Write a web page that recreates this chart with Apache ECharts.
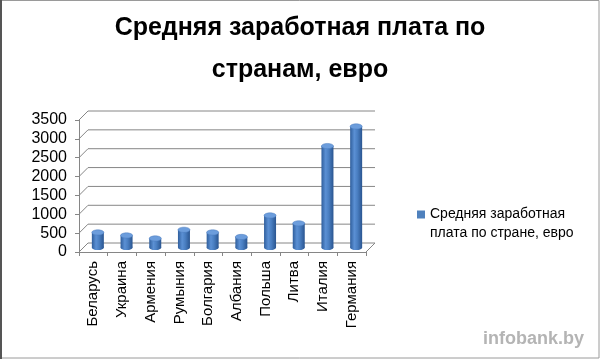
<!DOCTYPE html>
<html>
<head>
<meta charset="utf-8">
<script src="https://cdn.jsdelivr.net/npm/echarts@6/dist/echarts.min.js"></script>
<style>html,body{margin:0;padding:0;background:#fff}#c{width:600px;height:359px}</style>
</head>
<body>
<div id="c"></div>
<script>
const titleText = 'Средняя заработная плата по\nстранам, евро';
const seriesName = 'Средняя заработная плата по стране, евро';
const categories = ['Беларусь','Украина','Армения','Румыния','Болгария','Албания','Польша','Литва','Италия','Германия'];
const values = [400, 320, 240, 470, 400, 280, 850, 640, 2690, 3210];
const yTicks = [0, 500, 1000, 1500, 2000, 2500, 3000, 3500];
const watermark = 'infobank.by';

const D = 9;          // depth offset of back wall
const FONT = '"Liberation Sans", Arial, sans-serif';
const lineColor = '#868686';

const chart = echarts.init(document.getElementById('c'), null, {renderer: 'canvas'});

const option = {
  backgroundColor: '#ffffff',
  animation: false,
  title: {
    text: titleText,
    left: 'center',
    top: 7,
    padding: 0,
    textStyle: {fontFamily: FONT, fontSize: 25, fontWeight: 'bold', color: '#000', lineHeight: 42}
  },
  legend: {
    data: [seriesName],
    left: 417,
    top: 205,
    padding: 0,
    itemWidth: 8,
    itemHeight: 27,
    itemGap: 4,
    icon: 'path://M0 0H8V8H0Z M0 27H0.01V27.01H0Z',
    formatter: () => 'Средняя заработная\nплата по стране, евро',
    textStyle: {fontFamily: FONT, fontSize: 14, color: '#000', lineHeight: 19, padding: [0, 0, 0, 0]}
  },
  grid: {left: 79, top: 120, width: 287, height: 132, containLabel: false},
  xAxis: {
    type: 'category',
    data: categories,
    boundaryGap: true,
    axisLine: {show: true, lineStyle: {color: lineColor, width: 1}},
    axisTick: {show: true, length: 4, inside: false, lineStyle: {color: lineColor}},
    axisLabel: {rotate: 90, fontFamily: FONT, fontSize: 15, color: '#000', margin: 9, interval: 0}
  },
  yAxis: {
    type: 'value',
    min: 0, max: 3500, interval: 500,
    axisLine: {show: true, lineStyle: {color: lineColor, width: 1}},
    axisTick: {show: true, length: 4, lineStyle: {color: lineColor}},
    splitLine: {show: false},
    axisLabel: {fontFamily: FONT, fontSize: 16, color: '#000', margin: 12, formatter: v => String(v)}
  },
  series: [
    {
      name: 'walls',
      type: 'custom',
      silent: true,
      z: 1,
      data: yTicks.map(v => [0, v]),
      renderItem: function (params, api) {
        const cs = params.coordSys;
        const v = api.value(1);
        const y = api.coord([0, v])[1];
        const children = [{
          type: 'polyline',
          shape: {points: [[cs.x, y], [cs.x + D, y - D], [cs.x + cs.width + D, y - D]]},
          style: {stroke: lineColor, lineWidth: 1, fill: null}
        }];
        if (v === 0) {
          children.push({
            type: 'line',
            shape: {x1: cs.x + cs.width, y1: y, x2: cs.x + cs.width + D, y2: y - D},
            style: {stroke: lineColor, lineWidth: 1}
          });
        }
        return {type: 'group', children: children};
      }
    },
    {
      name: seriesName,
      type: 'custom',
      z: 3,
      itemStyle: {color: '#4F81BD'},
      data: values.map((v, i) => [i, v]),
      renderItem: function (params, api) {
        const idx = api.value(0);
        const top = api.coord([idx, api.value(1)]);
        const base = api.coord([idx, 0]);
        const cx = top[0] + D / 2;
        const yt = top[1] - D / 2;
        const yb = base[1] - D / 2;
        const w = 12, rx = 6, ry = 2.6;
        const bodyFill = new echarts.graphic.LinearGradient(0, 0, 1, 0, [
          {offset: 0, color: '#2f5e9c'},
          {offset: 0.35, color: '#5b90d4'},
          {offset: 0.6, color: '#4a7fc2'},
          {offset: 1, color: '#2a5590'}
        ]);
        return {
          type: 'group',
          children: [
            {type: 'ellipse', shape: {cx: cx, cy: yb, rx: rx, ry: ry}, style: {fill: bodyFill}},
            {type: 'rect', shape: {x: cx - w / 2, y: yt, width: w, height: yb - yt}, style: {fill: bodyFill}},
            {type: 'ellipse', shape: {cx: cx, cy: yt, rx: rx, ry: ry}, style: {fill: '#6c9ddc', stroke: '#4a7bbd', lineWidth: 0.5}}
          ]
        };
      }
    }
  ],
  graphic: [
    {type: 'rect', shape: {x: 0.5, y: 0.5, width: 598.5, height: 357.5}, style: {fill: null, stroke: '#9a9a9a', lineWidth: 1}, z: 100},
    {type: 'line', shape: {x1: 1, y1: 0, x2: 1, y2: 359}, style: {stroke: '#555', lineWidth: 2}, z: 101},
    {type: 'text', right: 16, top: 330, style: {text: watermark, fontFamily: FONT, fontSize: 18, fontWeight: 'bold', fill: '#b4b4b4'}, z: 100}
  ]
};
chart.setOption(option);
</script>
</body>
</html>
